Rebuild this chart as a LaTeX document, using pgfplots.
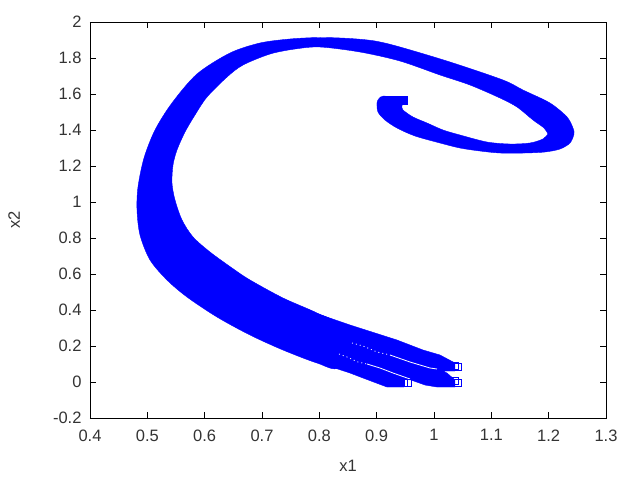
\documentclass[border=0pt]{standalone}
\usepackage{fontspec}
\setmainfont{Liberation Sans}
\usepackage{pgfplots}
\pgfplotsset{compat=1.18}
\begin{document}
\begin{tikzpicture}
\begin{axis}[
    scale only axis, width=516pt, height=396pt,
    xmin=0.4, xmax=1.3, ymin=-0.2, ymax=2,
    xtick={0.4,0.5,0.6,0.7,0.8,0.9,1,1.1,1.2,1.3},
    ytick={-0.2,0,0.2,0.4,0.6,0.8,1,1.2,1.4,1.6,1.8,2},
    tick align=inside, major tick length=6pt,
    tick style={black, line width=0.8pt},
    axis line style={line width=0.8pt},
    /pgf/number format/assume math mode=true,
    /pgf/number format/fixed,
    tick label style={font=\fontsize{16.5}{18}\selectfont, text=black!80},
    label style={font=\fontsize{16.5}{18}\selectfont, text=black!80},
    xticklabel style={yshift=-8pt},
    yticklabel style={xshift=-5pt},
    xlabel={x1}, ylabel={x2},
    xlabel style={at={(rel axis cs:0.5,0)}, anchor=center, yshift=-48pt},
    ylabel style={at={(rel axis cs:0,0.5)}, anchor=center, yshift=76pt},
]
% swept band of trajectories, outline
\addplot[fill=blue, draw=blue, line width=0.4pt, smooth, tension=0.5] coordinates {
(.94,1.57) (.912,1.5889) (.9035,1.5722) (.9006,1.55) (.9023,1.5) (.9145,1.4556)
(.9355,1.4111) (.9669,1.3667) (1.0105,1.3278) (1.0453,1.3) (1.0802,1.2833)
(1.1151,1.2722) (1.1587,1.2722) (1.1936,1.2778) (1.2198,1.2944) (1.2372,1.3278)
(1.2442,1.3778) (1.2424,1.4111) (1.232,1.4722) (1.2023,1.55) (1.1552,1.6222)
(1.1203,1.6778) (1.0279,1.7778) (.9407,1.8611) (.8971,1.8944) (.8535,1.9083)
(.8012,1.9139) (.7488,1.9056) (.6965,1.8833) (.6442,1.8278) (.5866,1.7111)
(.543,1.55) (.5134,1.4) (.4942,1.2444) (.4837,1.0833) (.482,.9556)
(.4872,.8167) (.5047,.6778) (.5343,.5667) (.5692,.4722) (.6215,.3611)
(.6791,.2611) (.7366,.1778) (.7959,.1056) (.8326,.0833)
(.8326,.3111) (.7959,.3833) (.7366,.4667) (.6791,.5667) (.6477,.6333)
(.6093,.7222) (.5797,.8056) (.5605,.9) (.5483,1.0111) (.543,1.1056)
(.5448,1.2056) (.5517,1.2889) (.5657,1.3889) (.5831,1.4833) (.6041,1.5833)
(.639,1.6944) (.6669,1.7611) (.714,1.8222) (.7576,1.85) (.8012,1.8611)
(.8709,1.8333) (.9407,1.7833) (1.0105,1.7056) (1.0628,1.65) (1.1151,1.5778)
(1.1448,1.5278) (1.1727,1.4556) (1.1919,1.4111) (1.1988,1.3778) (1.1988,1.3778)
(1.1901,1.35) (1.1674,1.3278) (1.1326,1.3222) (1.0924,1.3333) (1.0453,1.3722)
(1.0157,1.4) (.9878,1.4389) (.9634,1.4722) (.9459,1.5111) (.9442,1.5333)
(.945,1.55) (.94,1.57)
};
% square head of the band
\addplot[fill=blue, draw=blue, line width=0.4pt] coordinates {
(.9529,1.5889) (.912,1.5889) (.912,1.5444) (.9529,1.5444)
} --cycle;
% the three branches at the end of the band
\addplot[fill=blue, draw=blue, line width=0.4pt] coordinates {
(.7959,.11) (.8535,.05) (.8762,.0222) (.918,-.0278) (.9477,-.0278)
(.9477,.0167) (.9599,.0111) (.9843,-.0167) (1.0052,-.0278) (1.0366,-.0278)
(1.0366,.0111) (1.0227,.05) (1.0157,.0611) (1.0366,.0611) (1.0366,.1056)
(1.0105,.15) (.9808,.1778) (.9355,.2333) (.8535,.3167) (.7959,.38)
} --cycle;
% thin gaps between the three branches
\addplot[white, line width=0.8pt, dash pattern=on 1pt off 3pt] coordinates {
(.857,.2167) (.8762,.2) (.9006,.1667) (.9233,.15)};
\addplot[white, line width=0.8pt] coordinates {
(.9233,.15) (.9581,.1111) (.993,.0778) (1.0052,.0722)};
\addplot[white, line width=0.8pt, dash pattern=on 1pt off 3pt] coordinates {
(.8343,.1556) (.8483,.1389) (.8674,.1111) (.8831,.1)};
\addplot[white, line width=0.8pt] coordinates {
(.8831,.1) (.9058,.0778) (.9285,.05) (.9581,.0167)};
% last square marks at the branch ends
\addplot[only marks, mark=square, mark size=3.5pt, blue,
    mark options={line width=1pt, solid}] coordinates {
(.9477,-.0033) (.9538,-.0083)
(1.0366,.0033) (1.0427,-.0083)
(1.0366,.0878) (1.0427,.0833)
};
\end{axis}
\path[use as bounding box] (-90pt,-62pt) rectangle (550pt,418pt);
\end{tikzpicture}
\end{document}
